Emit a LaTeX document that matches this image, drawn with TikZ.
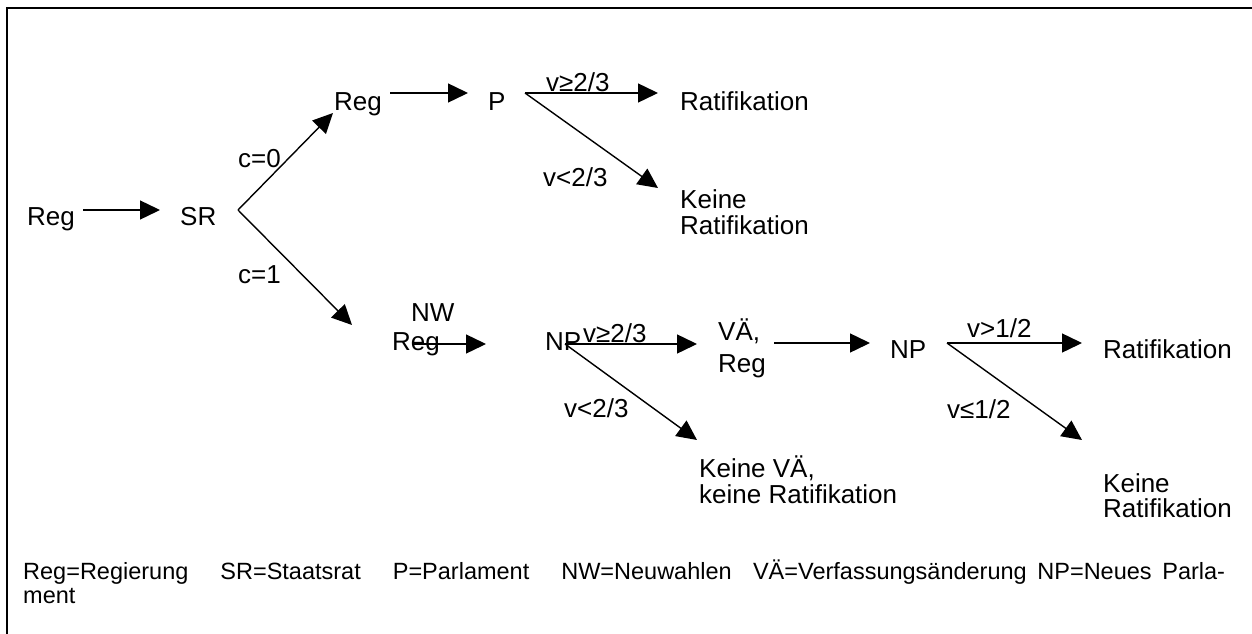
\documentclass[tikz,border=0pt]{standalone}
\usepackage{fontspec}
\setmainfont{Liberation Sans}
\usetikzlibrary{arrows.meta}
\begin{document}
\begin{tikzpicture}[x=1pt,y=-1pt,
  txt/.style={anchor=base west, inner sep=0pt, font=\fontsize{26}{26}\selectfont},
  leg/.style={anchor=base west, inner sep=0pt, font=\fontsize{23.5}{24}\selectfont},
  arr/.style={-{Triangle[length=20pt,width=19pt]}, line width=1.4pt},
  frame/.style={line width=2pt}]
\useasboundingbox (0,0) rectangle (1252,634);

% open frame: top and left edges only
\draw[frame] (1252,8) -- (7,8) -- (7,634);

% decision nodes and outcomes
\node[txt] (reg0) at (27,225) {Reg};
\node[txt] (sr) at (180,225) {SR};
\node[txt] (reg1) at (334,110) {Reg};
\node[txt] (p) at (488,110) {P};
\node[txt] (rat1) at (680,110) {Ratifikation};
\node[txt] (keine1a) at (680,208) {Keine};
\node[txt] (keine1b) at (680,234) {Ratifikation};
\node[txt] (nw) at (411,321) {NW};
\node[txt] (nwreg) at (392,350) {Reg};
\node[txt] (np1) at (545,350) {NP};
\node[txt] (vaea) at (718,340) {VÄ,};
\node[txt] (vaeb) at (718,372) {Reg};
\node[txt] (keine2a) at (699,477) {Keine VÄ,};
\node[txt] (keine2b) at (699,503) {keine Ratifikation};
\node[txt] (np2) at (890,358) {NP};
\node[txt] (rat2) at (1103,358) {Ratifikation};
\node[txt] (keine3a) at (1103,492) {Keine};
\node[txt] (keine3b) at (1103,517) {Ratifikation};

% edge labels
\node[txt] (c0) at (238,167) {c=0};
\node[txt] (c1) at (238,283) {c=1};
\node[txt] (pyes) at (546,92) {v≥2/3};
\node[txt] (pno) at (543,186) {v<2/3};
\node[txt] (np1yes) at (583,342) {v≥2/3};
\node[txt] (np1no) at (564,417) {v<2/3};
\node[txt] (np2yes) at (967,337) {v>1/2};
\node[txt] (np2no) at (947,418) {v≤1/2};

% connector end points
\coordinate (reg0out) at (83,210);
\coordinate (srin) at (160,210);
\coordinate (srfork) at (238,210);
\coordinate (reg1in) at (333,113);
\coordinate (nwin) at (352,325);
\coordinate (reg1out) at (390,93);
\coordinate (pin) at (468,93);
\coordinate (pfork) at (525,93);
\coordinate (rat1in) at (658,93);
\coordinate (keine1in) at (658,188);
\coordinate (nwout) at (413,344);
\coordinate (np1in) at (486,344);
\coordinate (np1fork) at (565,344);
\coordinate (vaein) at (697,344);
\coordinate (keine2in) at (697,440);
\coordinate (vaeout) at (774,343);
\coordinate (np2in) at (870,343);
\coordinate (np2fork) at (947,343);
\coordinate (rat2in) at (1082,343);
\coordinate (keine3in) at (1082,440);

\draw[arr] (reg0out) -- (srin);
\draw[arr] (srfork) -- (reg1in);
\draw[arr] (srfork) -- (nwin);
\draw[arr] (reg1out) -- (pin);
\draw[arr] (pfork) -- (rat1in);
\draw[arr] (pfork) -- (keine1in);
\draw[arr] (nwout) -- (np1in);
\draw[arr] (np1fork) -- (vaein);
\draw[arr] (np1fork) -- (keine2in);
\draw[arr] (vaeout) -- (np2in);
\draw[arr] (np2fork) -- (rat2in);
\draw[arr] (np2fork) -- (keine3in);

% legend
\node[leg] (leg1) at (23,579) {\hbox to 1202pt{Reg=Regierung\ \ \ SR=Staatsrat\ \ \ P=Parlament\ \ \ NW=Neuwahlen\ \ VÄ=Verfassungsänderung NP=Neues Parla-}};
\node[leg] (leg2) at (23,603) {ment};
\end{tikzpicture}
\end{document}
